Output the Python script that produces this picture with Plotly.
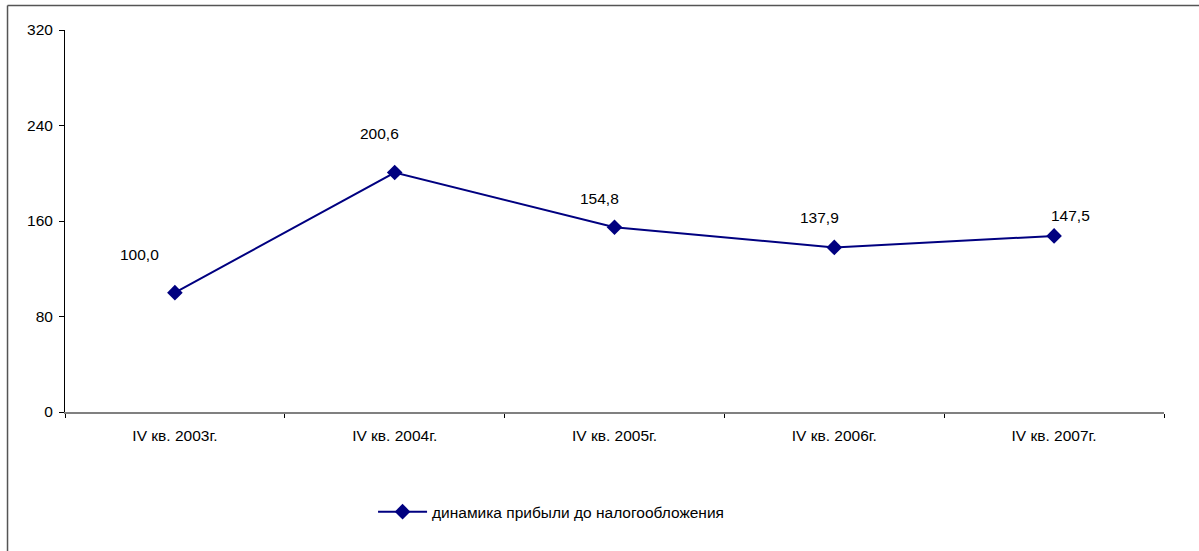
import plotly.graph_objects as go

categories = ["IV кв. 2003г.", "IV кв. 2004г.", "IV кв. 2005г.", "IV кв. 2006г.", "IV кв. 2007г."]
values = [100.0, 200.6, 154.8, 137.9, 147.5]
labels = ["100,0", "200,6", "154,8", "137,9", "147,5"]
series_name = "динамика прибыли до налогообложения"
label_xshift = [-35, -15, -15, -15, 16]
label_yshift = [38, 39, 29, 30, 20]

FONT = "Arial, Liberation Sans, sans-serif"

fig = go.Figure()
fig.add_trace(go.Scatter(
    x=categories, y=values, mode="lines+markers", name=series_name,
    line=dict(color="#000080", width=2),
    marker=dict(symbol="diamond", size=12, color="#000080"),
))

for c, v, t, dx, dy in zip(categories, values, labels, label_xshift, label_yshift):
    fig.add_annotation(x=c, y=v, text=t, showarrow=False, xshift=dx, yshift=dy,
                       font=dict(family=FONT, size=15.5, color="#000"))

# outer chart frame (only left and top edges fall inside the picture)
fig.add_shape(type="line", xref="paper", yref="paper", x0=-0.0523, x1=-0.0523, y0=1.064, y1=-0.6,
              line=dict(color="#555", width=1.5), layer="above")
fig.add_shape(type="line", xref="paper", yref="paper", x0=-0.0523, x1=1.2, y0=1.064, y1=1.064,
              line=dict(color="#555", width=1.5), layer="above")

fig.update_layout(
    width=1199, height=551,
    margin=dict(l=65, r=35, t=30, b=139),
    paper_bgcolor="white", plot_bgcolor="white",
    font=dict(family=FONT, size=15.5, color="#000"),
    showlegend=True,
    legend=dict(orientation="h", x=0.2803, y=-0.262, xanchor="left", yanchor="middle",
                itemwidth=49, font=dict(size=15.5), bgcolor="rgba(0,0,0,0)"),
    xaxis=dict(type="category", range=[-0.5, 4.5], showgrid=False, showline=True,
               linecolor="#808080", linewidth=2,
               ticks="outside", tickson="boundaries", ticklen=4, tickcolor="#000", zeroline=False,
               ticklabelstandoff=8),
    yaxis=dict(range=[0, 320], dtick=80, showgrid=False, showline=True, linecolor="#000", linewidth=1,
               ticks="outside", ticklen=5, tickcolor="#000", zeroline=False, ticklabelstandoff=3),
)

fig.write_html("out.html", config={"displayModeBar": False},
               post_script="document.body.style.margin='0';")
